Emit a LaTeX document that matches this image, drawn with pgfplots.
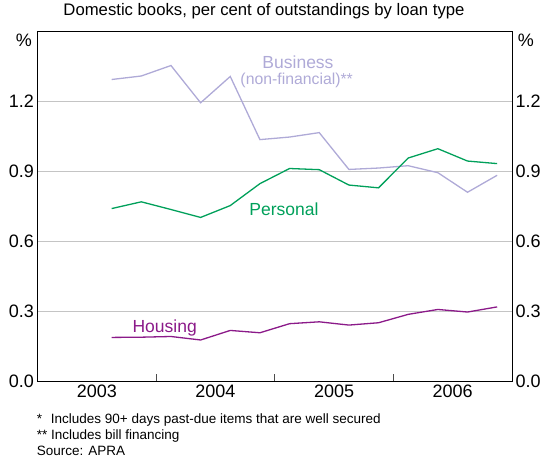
\documentclass[border=0pt]{standalone}
\usepackage{fontspec}
\setmainfont{Liberation Sans}
\usepackage{pgfplots}
\pgfplotsset{compat=1.18}

\definecolor{business}{HTML}{AFAAD7}
\definecolor{personal}{HTML}{00A05A}
\definecolor{housing}{HTML}{8B1A89}
\definecolor{gridgrey}{HTML}{C4C4C4}

% quarterly data, per cent of outstandings
\pgfplotstableread{
x        business personal housing
2003.625 1.294    0.740    0.187
2003.875 1.309    0.769    0.188
2004.125 1.354    0.736    0.191
2004.375 1.194    0.702    0.176
2004.625 1.307    0.753    0.217
2004.875 1.036    0.847    0.207
2005.125 1.047    0.912    0.246
2005.375 1.066    0.907    0.254
2005.625 0.908    0.841    0.240
2005.875 0.914    0.829    0.250
2006.125 0.924    0.957    0.286
2006.375 0.894    0.997    0.307
2006.625 0.810    0.944    0.296
2006.875 0.883    0.933    0.318
}\impaired

\pgfplotsset{
  rbabase/.style={
    at={(37.5pt,80pt)}, anchor=south west,
    scale only axis, width=474.5pt, height=349.5pt,
    xmin=2003, xmax=2007, ymin=0, ymax=1.5,
    ytick={0,0.3,0.6,0.9,1.2},
    axis line style={line width=0.8pt},
    ytick style={draw=none},
    ticklabel style={font=\fontsize{18}{20}\selectfont},
    /pgf/number format/assume math mode=true,
    yticklabel style={/pgf/number format/.cd, fixed, fixed zerofill, precision=1},
  },
}

\begin{document}
\begin{tikzpicture}
\path[use as bounding box] (0pt,0pt) rectangle (542pt,461pt);

\begin{axis}[rbabase,
    xtick={2003.5,2004.5,2005.5,2006.5},
    xticklabels={2003,2004,2005,2006},
    minor xtick={2004,2005,2006},
    xtick pos=bottom,
    major x tick style={draw=none},
    minor x tick style={draw=black!70, line width=0.8pt},
    minor tick length=6.5pt,
    ymajorgrids,
    major grid style={gridgrey, line width=0.8pt},
    yticklabel pos=left,
  ]
  \addplot[business, line width=1.3pt] table[x=x, y=business] {\impaired};
  \addplot[personal, line width=1.3pt] table[x=x, y=personal] {\impaired};
  \addplot[housing, line width=1.3pt] table[x=x, y=housing] {\impaired};

  \node[business, anchor=base, font=\fontsize{17.5}{20}\selectfont] at (axis cs:2005.196,1.342) {Business};
  \node[business, anchor=base, font=\fontsize{15.8}{18}\selectfont] at (axis cs:2005.185,1.273) {(non-financial)**};
  \node[personal, anchor=base, font=\fontsize{17.5}{20}\selectfont] at (axis cs:2005.078,0.7115) {Personal};
  \node[housing, anchor=base, font=\fontsize{17.5}{20}\selectfont] at (axis cs:2004.072,0.21) {Housing};
\end{axis}

% right-hand scale
\begin{axis}[rbabase, hide x axis, yticklabel pos=right]
\end{axis}

\node[font=\fontsize{16.7}{20}\selectfont, anchor=base] at (264pt,445pt) {Domestic books, per cent of outstandings by loan type};
\node[font=\fontsize{18}{20}\selectfont] at (24pt,421pt) {\%};
\node[font=\fontsize{18}{20}\selectfont] at (526pt,421pt) {\%};

\node[font=\fontsize{13.5}{16}\selectfont, anchor=base west, inner sep=0pt] at (36.7pt,37pt) {\makebox[14pt][l]{*}Includes 90+ days past-due items that are well secured};
\node[font=\fontsize{13.5}{16}\selectfont, anchor=base west, inner sep=0pt] at (36.7pt,21pt) {** Includes bill financing};
\node[font=\fontsize{13.5}{16}\selectfont, anchor=base west, inner sep=0pt] at (36.7pt,5pt) {Source: APRA};
\end{tikzpicture}
\end{document}
